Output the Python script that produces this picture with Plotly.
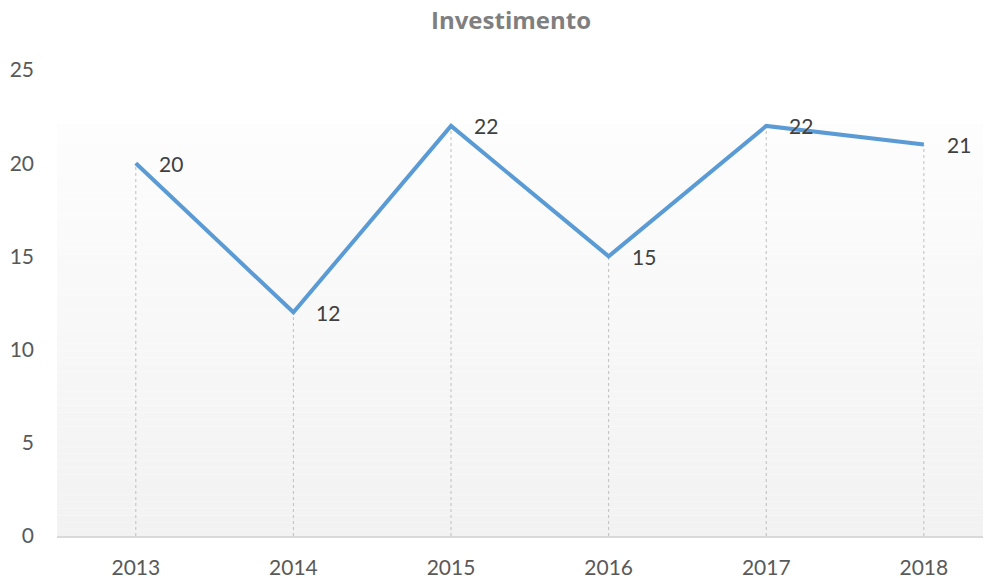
import plotly.graph_objects as go

years = ["2013", "2014", "2015", "2016", "2017", "2018"]
investimento = [20, 12, 22, 15, 22, 21]
y_ticks = [0, 5, 10, 15, 20, 25]
title_text = "Investimento"

FONT = "Lato, Carlito, Calibri, sans-serif"
LINE_COLOR = "#5B9BD5"

# page has an 8px body margin; figure sized so the chart lands as in the reference
W, H = 983, 570

fig = go.Figure()

# gradient background stripes (styling)
n = 60
top_frac = 0.884
c_top = (253, 253, 253)
c_bot = (242, 242, 242)
for i in range(n):
    y0 = top_frac * i / n
    y1 = top_frac * (i + 1) / n
    t = (i + 0.5) / n
    c = tuple(round(c_bot[k] + (c_top[k] - c_bot[k]) * t) for k in range(3))
    fig.add_shape(type="rect", xref="paper", yref="paper", x0=0, x1=1, y0=y0, y1=y1,
                  fillcolor="rgb(%d,%d,%d)" % c, line_width=0, layer="below")

# drop lines
dx, dy = [], []
for yr, v in zip(years, investimento):
    dx += [yr, yr, None]
    dy += [0, v, None]
fig.add_trace(go.Scatter(x=dx, y=dy, mode="lines",
                         line=dict(color="#BFBFBF", width=1, dash="dot"),
                         hoverinfo="skip", showlegend=False))

fig.add_trace(go.Scatter(x=years, y=investimento, mode="lines",
                         line=dict(color=LINE_COLOR, width=4),
                         showlegend=False))

for i, v in enumerate(investimento):
    fig.add_annotation(x=i, y=v, xref="x", yref="y", text=str(v), showarrow=False,
                       xanchor="left", yanchor="middle", xshift=21, yshift=0,
                       font=dict(family=FONT, size=21, color="#404040"))

fig.update_layout(
    width=W, height=H,
    margin=dict(l=49, r=0, t=62, b=42),
    paper_bgcolor="white", plot_bgcolor="rgba(0,0,0,0)",
    title=dict(text="<b>" + title_text + "</b>", x=(511 - 8) / W, xanchor="center",
               y=1 - (21 - 8) / H, yanchor="middle",
               font=dict(family="Open Sans, sans-serif", size=24, color="#7F7F7F")),
    font=dict(family=FONT, size=21, color="#595959"),
)
fig.update_xaxes(type="category", range=[-0.5, 5.426], showgrid=False,
                 showline=True, linecolor="#D9D9D9", linewidth=2,
                 ticks="", ticklabelstandoff=12, zeroline=False,
                 tickfont=dict(family=FONT, size=21, color="#595959"))
fig.update_yaxes(range=[0, 25], tickvals=y_ticks, showgrid=False,
                 zeroline=False, showline=False, ticks="",
                 ticklabelstandoff=22,
                 tickfont=dict(family=FONT, size=21, color="#595959"))

fig.write_html("out.html")
